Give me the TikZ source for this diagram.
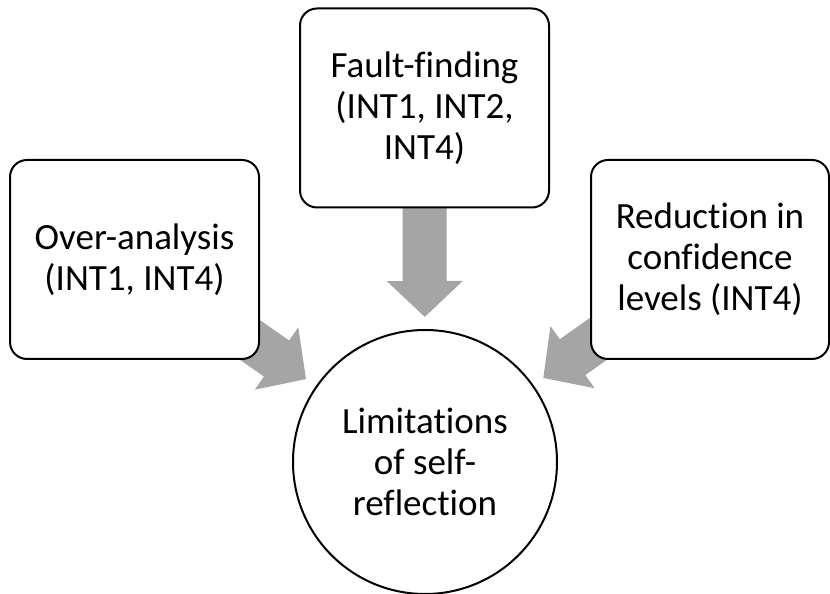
\documentclass[tikz,border=0pt]{standalone}
\usepackage{fontspec}
\setmainfont{Carlito}[Ligatures=NoCommon]
\usetikzlibrary{arrows.meta,backgrounds}

\definecolor{arrowgray}{RGB}{165,165,165}

\tikzset{
  causebox/.style={draw, line width=2pt, fill=white, rounded corners=17pt,
    minimum width=249pt, minimum height=199pt, align=center,
    font=\fontsize{37pt}{41pt}\selectfont},
  hub/.style={draw, circle, line width=2pt, fill=white, minimum size=264pt,
    inner sep=0pt, align=center, font=\fontsize{37pt}{41pt}\selectfont},
  bigarrow/.style={draw=arrowgray, line width=44pt,
    -{Triangle[width=74pt,length=36pt]}, shorten >=12pt}
}

\begin{document}
\begin{tikzpicture}[x=1pt,y=1pt]
  \useasboundingbox (0,0) rectangle (830,594) ;
  % centre and the three causes
  \node[hub] (limits) at (425,132) {Limitations\\of self-\\reflection} ;
  \node[causebox] (overanalysis) at (134.5,334.5) {Over-analysis\\(INT1, INT4)} ;
  \node[causebox] (faultfinding) at (424.5,486) {Fault-finding\\(INT1, INT2,\\INT4)} ;
  \node[causebox, minimum width=238pt] (confidence) at (710,334.5) %
    {Reduction in\\confidence\\levels (INT4)} ;
  % arrows go behind the boxes
  \begin{scope}[on background layer]
    \draw[bigarrow] (overanalysis.center) -- (limits) ;
    \draw[bigarrow] (faultfinding.center) -- (limits) ;
    \draw[bigarrow] (confidence.center) -- (limits) ;
  \end{scope}
\end{tikzpicture}
\end{document}
